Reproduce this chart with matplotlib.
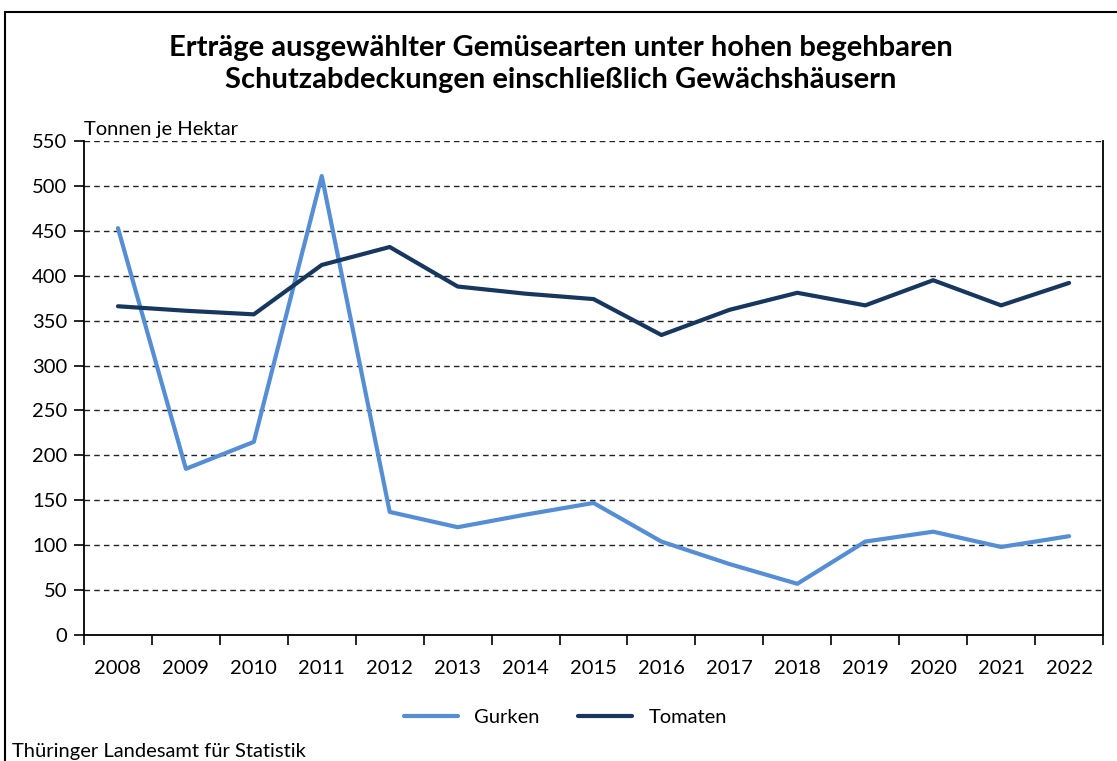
import matplotlib
matplotlib.use("Agg")
import matplotlib.pyplot as plt
import matplotlib.patches as patches
import numpy as np

plt.rcParams['font.family'] = ['Lato', 'DejaVu Sans']

years = ['2008', '2009', '2010', '2011', '2012', '2013', '2014', '2015',
         '2016', '2017', '2018', '2019', '2020', '2021', '2022']
gurken = [453, 185, 215, 511, 137, 120, 134, 147, 104, 79, 57, 104, 115, 98, 110]
tomaten = [366, 361, 357, 412, 432, 388, 380, 374, 334, 362, 381, 367, 395, 367, 392]
yticks = list(range(0, 551, 50))

fig = plt.figure(figsize=[11.17, 7.61], dpi=100)
ax = fig.add_axes([0.0752, 0.1656, 0.9123, 0.6491])

x = np.arange(len(years))
ax.plot(x, gurken, color='#558ED5', lw=3, label='Gurken', solid_capstyle='round')
ax.plot(x, tomaten, color='#17375E', lw=3, label='Tomaten', solid_capstyle='round')

ax.set_xlim(-0.5, len(years) - 0.5)
ax.set_ylim(0, 550)
ax.set_yticks(yticks)
ax.set_yticklabels([str(v) for v in yticks], fontsize=14.5)

# category labels centred, ticks on boundaries
ax.set_xticks(np.arange(-0.5, len(years)), minor=False)
ax.set_xticklabels([])
ax.set_xticks(x, minor=True)
ax.set_xticklabels(years, minor=True, fontsize=14.5)
ax.tick_params(axis='x', which='minor', length=0, pad=18)
ax.tick_params(axis='x', which='major', length=7, width=1.2, direction='out')
ax.tick_params(axis='y', length=7, width=1.2, direction='out', pad=5)

ax.grid(axis='y', color='#222222', linestyle=(0, (4, 3)), lw=1.0)
ax.set_axisbelow(True)
ax.spines['top'].set_visible(False)
for s in ['left', 'bottom', 'right']:
    ax.spines[s].set_linewidth(1.3)

ax.text(0, 1.006, 'Tonnen je Hektar', transform=ax.transAxes, fontsize=14.5,
        ha='left', va='bottom')

fig.text(0.502, 0.916, 'Erträge ausgewählter Gemüsearten unter hohen begehbaren\n'
         'Schutzabdeckungen einschließlich Gewächshäusern',
         ha='center', va='center', fontsize=21, fontweight='bold', linespacing=1.32)

leg = fig.legend(loc='center', bbox_to_anchor=(0.506, 0.057), ncol=2, frameon=False,
                 fontsize=14.5, handlelength=2.7, columnspacing=1.9, handletextpad=0.8)

fig.text(12 / 1117, 0.001, 'Thüringer Landesamt für Statistik', fontsize=14.5,
         ha='left', va='bottom')

# outer frame
frame = patches.Rectangle((5 / 1117, -0.1), 1.2, 1 - 12 / 761 + 0.1,
                          transform=fig.transFigure, fill=False,
                          edgecolor='black', lw=1.5, clip_on=False)
fig.patches.append(frame)

fig.savefig('out.png', dpi=100)
